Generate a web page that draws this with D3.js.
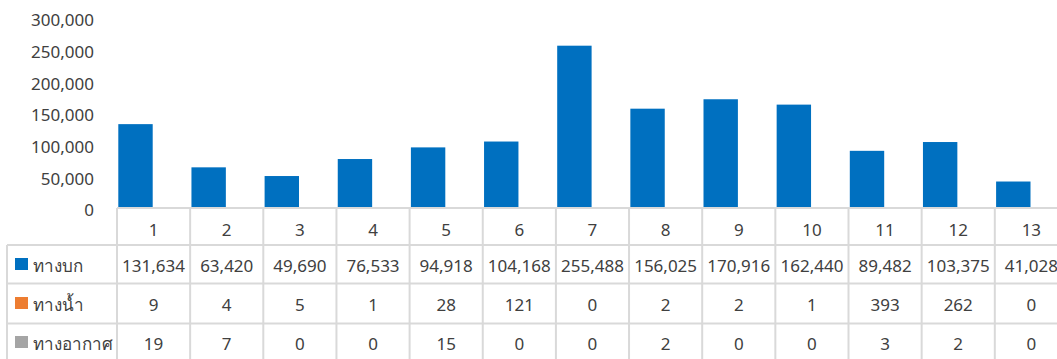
<!DOCTYPE html>
<html>
<head>
<meta charset="utf-8">
<script src="https://cdn.jsdelivr.net/npm/d3@7"></script>
<style>
  html, body { margin: 0; padding: 0; background: #fff; overflow: hidden; }
  svg { display: block; }
  text { font-family: Tahoma, "Leelawadee UI", "Noto Sans", "DejaVu Sans", sans-serif; fill: #404040; }
</style>
</head>
<body>
<svg id="chart" width="1057" height="359"></svg>
<script>
// Categories (column headers of the data table)
const categories = ["1", "2", "3", "4", "5", "6", "7", "8", "9", "10", "11", "12", "13"];

// Series names
const seriesNames = ["ทางบก", "ทางน้ำ", "ทางอากาศ"];

// Series values
const landValues  = [131634, 63420, 49690, 76533, 94918, 104168, 255488, 156025, 170916, 162440, 89482, 103375, 41028];
const waterValues = [9, 4, 5, 1, 28, 121, 0, 2, 2, 1, 393, 262, 0];
const airValues   = [19, 7, 0, 0, 15, 0, 0, 2, 0, 0, 3, 2, 0];

// Y axis ticks
const yTicks = [0, 50000, 100000, 150000, 200000, 250000, 300000];

const seriesColors = ["#0070C0", "#ED7D31", "#A5A5A5"];
const seriesValues = [landValues, waterValues, airValues];

const svg = d3.select("#chart");
const gridColor = "#D9D9D9";

const plotLeft = 117;
const colWidth = 73.15;
const plotRight = plotLeft + colWidth * categories.length;
const plotTop = 17.5;
const plotBottom = 207.5;

const x0 = d3.scaleBand().domain(categories).range([plotLeft, plotRight]).padding(0);
const x1 = d3.scaleBand().domain(d3.range(seriesNames.length)).range([1.3, 1.3 + 17.5 * 3]).padding(0);
const barWidth = 34.4;
const y = d3.scaleLinear().domain([0, 300000]).range([plotBottom, plotTop]);

const fmt = d3.format(",");

// Y axis labels
const yAxis = d3.axisLeft(y).tickValues(yTicks).tickFormat(fmt).tickSize(0).tickPadding(0);
const yg = svg.append("g").attr("transform", "translate(94,0)").call(yAxis);
yg.select(".domain").remove();
yg.selectAll("text")
  .attr("dy", "0.35em")
  .attr("y", 2.5)
  .style("font-size", "17px")
  .style("font-family", "Tahoma, 'Leelawadee UI', 'Noto Sans', 'DejaVu Sans', sans-serif")
  .attr("fill", "#404040");

// Bars
seriesValues.forEach((vals, si) => {
  svg.append("g")
    .selectAll("rect")
    .data(vals)
    .join("rect")
    .attr("x", (d, i) => x0(categories[i]) + x1(si))
    .attr("y", d => y(d))
    .attr("width", barWidth)
    .attr("height", d => Math.max(0, y(0) - y(d)))
    .attr("fill", seriesColors[si]);
});

// Data table grid
const tableLeft = 7;
const headerTop = plotBottom + 0.5;
const rowLines = [245, 283.5, 323.5, 363];
const grid = svg.append("g").attr("stroke", gridColor).attr("stroke-width", 2).attr("fill", "none");

// axis line / table top
grid.append("line").attr("x1", plotLeft).attr("x2", plotRight).attr("y1", headerTop).attr("y2", headerTop);
// horizontal row lines
rowLines.forEach(ry => {
  grid.append("line").attr("x1", tableLeft).attr("x2", plotRight).attr("y1", ry).attr("y2", ry);
});
// vertical lines between columns
d3.range(categories.length + 1).forEach(i => {
  const vx = plotLeft + i * colWidth;
  grid.append("line").attr("x1", vx).attr("x2", vx).attr("y1", headerTop).attr("y2", 363);
});
// table left border
grid.append("line").attr("x1", tableLeft).attr("x2", tableLeft).attr("y1", rowLines[0]).attr("y2", 363);

// Header row: category labels
svg.append("g")
  .selectAll("text")
  .data(categories)
  .join("text")
  .attr("x", d => x0(d) + x0.bandwidth() / 2)
  .attr("y", 230)
  .attr("dy", "0.35em")
  .attr("text-anchor", "middle")
  .style("font-size", "17px")
  .text(d => d);

// Data rows
const rowCenters = [266, 305, 344];
seriesValues.forEach((vals, si) => {
  const rg = svg.append("g");
  rg.selectAll("text")
    .data(vals)
    .join("text")
    .attr("x", (d, i) => x0(categories[i]) + x0.bandwidth() / 2)
    .attr("y", rowCenters[si])
    .attr("dy", "0.35em")
    .attr("text-anchor", "middle")
    .style("font-size", "17px")
    .text(d => fmt(d));

  // legend key + series name
  rg.append("rect")
    .attr("x", 15).attr("y", rowCenters[si] - 8)
    .attr("width", 13).attr("height", 12)
    .attr("fill", seriesColors[si]);
  rg.append("text")
    .attr("x", 33)
    .attr("y", rowCenters[si])
    .attr("dy", "0.35em")
    .style("font-size", "17px")
    .text(seriesNames[si]);
});
</script>
</body>
</html>
